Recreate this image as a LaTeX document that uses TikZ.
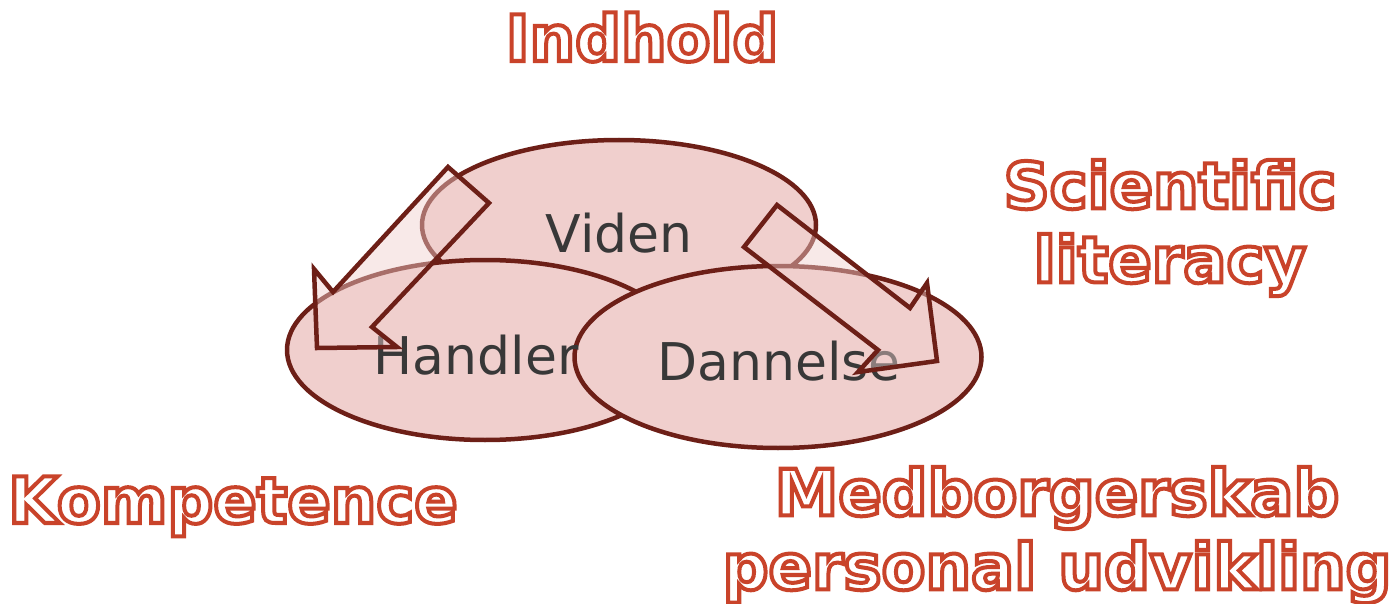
\documentclass[tikz,border=0pt]{standalone}
\usepackage{fontspec}
\newfontfamily\dvs{DejaVu Sans}
\newfontfamily\dvsb{DejaVu Sans Bold}
\definecolor{ellfill}{HTML}{F0CFCD}
\definecolor{ellline}{HTML}{6D1F17}
\definecolor{lbl}{HTML}{C9432A}
\definecolor{intext}{HTML}{383838}
\newcommand\outl[1]{\special{pdf:literal direct 2 Tr 4 w 0.788 0.263 0.165 RG}#1\special{pdf:literal direct 0 Tr}}
\tikzset{
  ellbox/.style={ellipse, draw=ellline, fill=ellfill, line width=4.5pt, inner sep=0pt},
  inlabel/.style={text=intext, font=\dvs\fontsize{52}{60}\selectfont, inner sep=0pt, anchor=base},
  outlabel/.style={text=white, font=\dvsb\fontsize{64}{74}\selectfont, inner sep=0pt, align=center},
  blockarrow/.style={draw=ellline, line width=4.5pt, line join=miter, fill=ellfill, fill opacity=0.45}
}
\usetikzlibrary{shapes.geometric}
\begin{document}
\begin{tikzpicture}[x=1pt,y=-1pt]
\useasboundingbox (0,0) rectangle (1392,604);
% ellipses
\node[ellbox, minimum width=394pt, minimum height=170pt] (eviden) at (619,225) {};
\node[ellbox, minimum width=396pt, minimum height=180pt] (ehandler) at (485,350) {};
\node[ellbox, minimum width=407pt, minimum height=182pt] (edannelse) at (778,357) {};
% inner labels
\node[inlabel] (tviden) at (619,252) {Viden};
\node[inlabel] (thandler) at (476,374) {Handler};
\node[inlabel] (tdannelse) at (779,380) {Dannelse};
% block arrows
\coordinate (la1) at (448,167);
\coordinate (la2) at (489,203);
\coordinate (la3) at (372,327);
\coordinate (la4) at (397,347);
\coordinate (la5) at (317,348);
\coordinate (la6) at (314,269);
\coordinate (la7) at (333,292);
\draw[blockarrow] (la1) -- (la2) -- (la3) -- (la4) -- (la5) -- (la6) -- (la7) -- cycle;
\coordinate (ra1) at (777,205);
\coordinate (ra2) at (910,308);
\coordinate (ra3) at (927,283);
\coordinate (ra4) at (937,361);
\coordinate (ra5) at (858,372);
\coordinate (ra6) at (878,350);
\coordinate (ra7) at (744,247);
\draw[blockarrow] (ra1) -- (ra2) -- (ra3) -- (ra4) -- (ra5) -- (ra6) -- (ra7) -- cycle;
% outer labels
\node[outlabel, anchor=base] (indhold) at (642,61) {\outl{Indhold}};
\node[outlabel] (scilit) at (1170,228) {\outl{Scientific}\\\outl{literacy}};
\node[outlabel, anchor=base] (kompetence) at (233,523) {\outl{Kompetence}};
\node[outlabel] (medborg) at (1057,535) {\outl{Medborgerskab}\\\outl{personal udvikling}};
\end{tikzpicture}
\end{document}
